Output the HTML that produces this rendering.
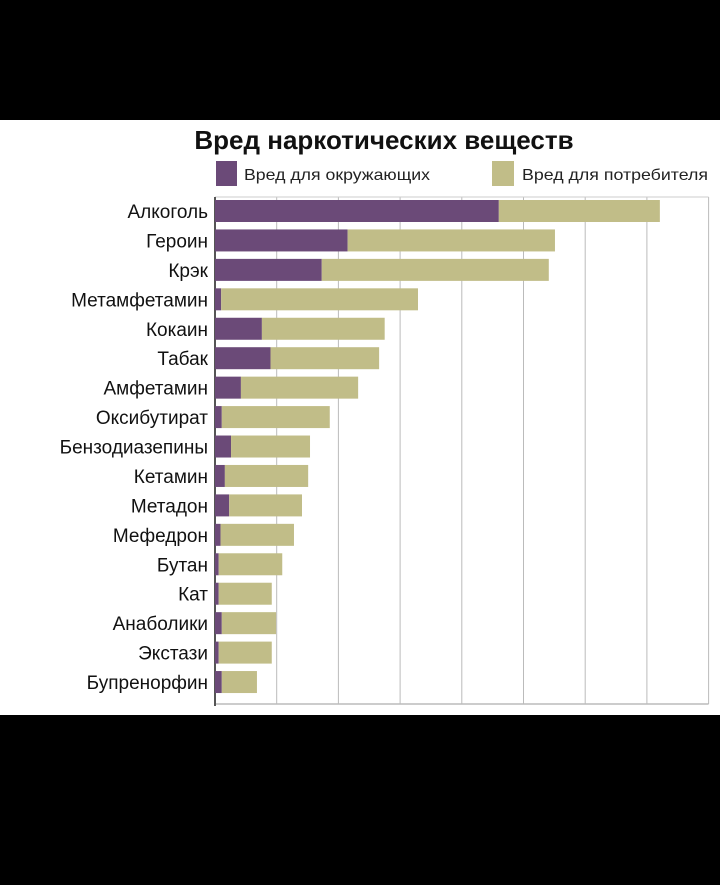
<!DOCTYPE html>
<html><head><meta charset="utf-8"><style>
body{margin:0;background:#000;width:720px;height:880px;overflow:hidden;font-family:"Liberation Sans",sans-serif}
</style></head><body>
<svg width="720" height="880">
<rect x="0" y="120" width="720" height="595" fill="#fff"/>
<text x="384" y="149" text-anchor="middle" font-size="26" font-weight="bold" fill="#111">Вред наркотических веществ</text>
<g>
<rect x="216" y="161" width="21" height="25" fill="#6b4a78"/>
<text x="244" y="180" font-size="16" fill="#222" textLength="186" lengthAdjust="spacingAndGlyphs">Вред для окружающих</text>
<rect x="492" y="161" width="22" height="25" fill="#c1bd88"/>
<text x="522" y="180" font-size="16" fill="#222" textLength="186" lengthAdjust="spacingAndGlyphs">Вред для потребителя</text>
</g>
<g id="grid"></g><g id="bars"></g><g id="labels"></g>
</svg>
<script>
const categories=["Алкоголь","Героин","Крэк","Метамфетамин","Кокаин","Табак","Амфетамин","Оксибутират","Бензодиазепины","Кетамин","Метадон","Мефедрон","Бутан","Кат","Анаболики","Экстази","Бупренорфин"];
const harmOthers=[46,21.5,17.3,1,7.6,9,4.2,1.1,2.6,1.6,2.3,0.9,0.6,0.6,1.1,0.6,1.1];
const harmUser=[26.1,33.6,36.8,31.9,19.9,17.6,19,17.5,12.8,13.5,11.8,11.9,10.3,8.6,8.8,8.6,5.7];
const ticks=[0,10,20,30,40,50,60,70,80];
const NS="http://www.w3.org/2000/svg";
const x0=215,unit=6.17,plotTop=197,plotBottom=704,step=29.44,firstY=211,bh=22;
const xs=v=>x0+v*unit;
const ys=i=>firstY+i*step;
function mk(t,a,p){const e=document.createElementNS(NS,t);for(const k in a)e.setAttribute(k,a[k]);document.getElementById(p).appendChild(e);return e;}
ticks.forEach(t=>{if(t===0)return;const l=mk('line',{x1:xs(t),x2:xs(t),y1:plotTop,y2:plotBottom,stroke:'#bbb','stroke-width':1},'grid');

});
const tl=mk('line',{x1:x0,x2:xs(80),y1:plotTop,y2:plotTop,stroke:'#ccc'},'grid');


const bl=mk('line',{x1:x0,x2:xs(80),y1:plotBottom,y2:plotBottom,stroke:'#bbb','stroke-width':1.5},'grid');


categories.forEach((c,i)=>{
const y=ys(i);
const a=mk('rect',{x:x0,y:y-bh/2,width:harmOthers[i]*unit,height:bh,fill:'#6b4a78'},'bars');


const b=mk('rect',{x:xs(harmOthers[i]),y:y-bh/2,width:harmUser[i]*unit,height:bh,fill:'#c1bd88'},'bars');


const t=mk('text',{x:208,y:y+7,'text-anchor':'end','font-size':19,fill:'#111'},'labels');
t.textContent=c;


});
const ax=mk('line',{x1:x0,x2:x0,y1:plotTop,y2:plotBottom+2,stroke:'#555','stroke-width':2},'grid');


</script>
</body></html>
